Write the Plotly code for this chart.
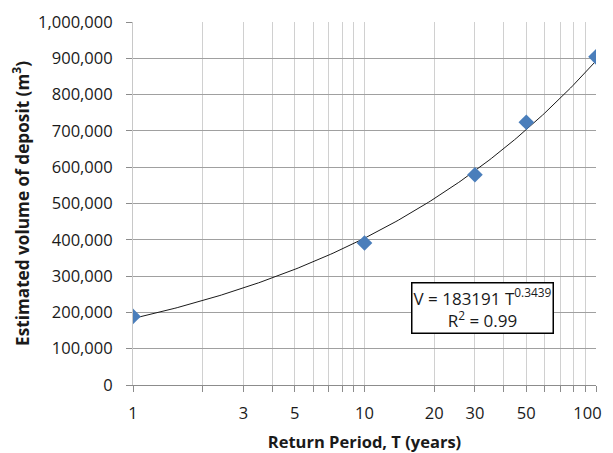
import numpy as np
import plotly.graph_objects as go

# Data
return_period = [1, 10, 30, 50, 100]
volume = [189000, 391000, 579000, 724000, 904000]

# Fitted power trendline coefficients (as shown in chart)
coef_a = 183191
coef_b = 0.3439
r_squared = 0.99

x_tick_vals = [1, 3, 5, 10, 20, 30, 50, 100]
x_tick_text = ["1", "3", "5", "10", "20", "30", "50", "100\u00a0\u00a0\u00a0\u00a0"]
x_minor_vals = [2, 4, 6, 7, 8, 9, 40, 60, 70, 80, 90]
y_tick_vals = list(range(0, 1000001, 100000))

t_fit = np.logspace(0, 2, 200)
v_fit = coef_a * t_fit ** coef_b

FONT = "Open Sans, Noto Sans, sans-serif"

fig = go.Figure()
fig.add_trace(go.Scatter(x=t_fit, y=v_fit, mode="lines",
                         line=dict(color="#1a1a1a", width=1), showlegend=False,
                         hoverinfo="skip"))
fig.add_trace(go.Scatter(x=return_period, y=volume, mode="markers",
                         marker=dict(symbol="diamond", size=12, color="#4A7EBB"),
                         showlegend=False))

# page body has an 8px margin, so figure is 605x445 and offsets account for it
fig.update_layout(
    width=605, height=445,
    margin=dict(l=125, r=17, t=14, b=68),
    paper_bgcolor="white", plot_bgcolor="white",
    font=dict(family=FONT, size=16.5, color="#1a1a1a"),
    xaxis=dict(
        type="log", range=[0, 2], automargin=False,
        tickmode="array", tickvals=x_tick_vals, ticktext=x_tick_text,
        tickfont=dict(size=16.5), ticklabelstandoff=7, ticklabeloverflow="allow",
        showgrid=True, gridcolor="#D0D0D0", gridwidth=1,
        ticks="outside", ticklen=6, tickcolor="#8c8c8c",
        showline=True, linecolor="#8c8c8c", linewidth=1,
        minor=dict(tickvals=x_minor_vals, showgrid=True, gridcolor="#D0D0D0",
                   ticks="outside", ticklen=6, tickcolor="#8c8c8c"),
        title=dict(text="<b>Return Period, T (years)</b>", font=dict(size=16.5), standoff=26),
        zeroline=False,
    ),
    yaxis=dict(
        range=[0, 1000000], automargin=False,
        tickmode="array", tickvals=y_tick_vals,
        tickformat=",d", tickfont=dict(size=16.5), ticklabelstandoff=10,
        showgrid=True, gridcolor="#A0A0A0", gridwidth=1,
        ticks="outside", ticklen=6, tickcolor="#8c8c8c",
        showline=True, linecolor="#C8C8C8", linewidth=1,
        title=dict(text="<b>Estimated volume of deposit (m<sup>3</sup>)</b>", font=dict(size=17.2), standoff=4),
        zeroline=False,
    ),
)

fig.add_annotation(
    x=0.754, y=0.212, xref="paper", yref="paper",
    xanchor="center", yanchor="middle",
    text=f"V = {coef_a} T<sup>{coef_b}</sup><br>R<sup>2</sup> = {r_squared}",
    showarrow=False, align="center",
    font=dict(size=17, family=FONT, color="#1a1a1a"),
    bgcolor="white", bordercolor="black", borderwidth=1.5, borderpad=1,
)

fig.write_html("out.html")
